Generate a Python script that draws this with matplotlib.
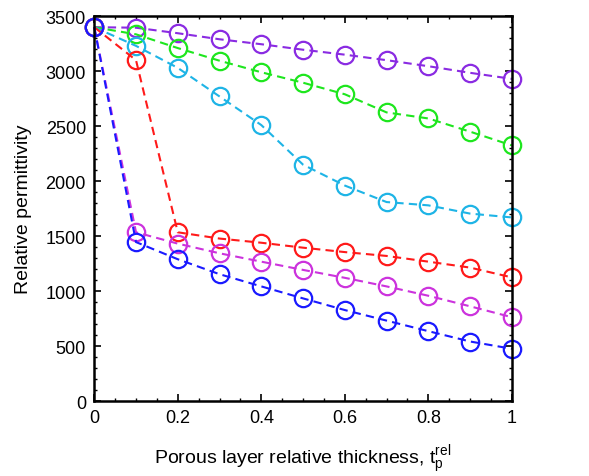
import numpy as np
import matplotlib
matplotlib.use('Agg')
from matplotlib import pyplot as plt
from matplotlib.ticker import MultipleLocator

plt.rcParams['font.family'] = ['Liberation Sans', 'DejaVu Sans']
plt.rcParams['mathtext.fontset'] = 'custom'
plt.rcParams['mathtext.rm'] = 'Liberation Sans'
plt.rcParams['mathtext.it'] = 'Liberation Sans'

# datos
x = [0, 0.1, 0.2, 0.3, 0.4, 0.5, 0.6, 0.7, 0.8, 0.9, 1.0]
purple = [3400, 3395, 3345, 3290, 3245, 3195, 3150, 3100, 3045, 2985, 2930]
green = [3400, 3335, 3210, 3095, 2990, 2895, 2790, 2625, 2570, 2450, 2325]
cyan = [3400, 3230, 3030, 2770, 2510, 2150, 1960, 1810, 1780, 1705, 1670]
red = [3400, 3100, 1535, 1478, 1440, 1395, 1355, 1320, 1268, 1214, 1125]
magenta = [3400, 1535, 1432, 1344, 1268, 1193, 1121, 1043, 958, 862, 763]
blue = [3400, 1446, 1290, 1154, 1043, 934, 828, 732, 636, 542, 476]

series = [(purple, '#8a2be2'), (green, '#1ee61e'), (cyan, '#1eb4e6'),
          (red, '#ff1a1a'), (magenta, '#cc33dd'), (blue, '#1a1aff')]

fig = plt.figure(figsize=(5.89, 4.77), dpi=100)
ax = fig.add_axes([0.160, 0.157, 0.709, 0.807])

for ys, c in series:
    ax.plot(x, ys, '--o', color=c, mfc='none', ms=12.5, mew=1.6, lw=1.5,
            dashes=(4, 2.5), clip_on=False)

ax.set_xlim(0, 1)
ax.set_ylim(0, 3500)
ax.set_xticks([0, 0.2, 0.4, 0.6, 0.8, 1])
ax.set_xticklabels(['0', '0.2', '0.4', '0.6', '0.8', '1'])
ax.xaxis.set_minor_locator(MultipleLocator(0.05))
ax.yaxis.set_major_locator(MultipleLocator(500))
ax.yaxis.set_minor_locator(MultipleLocator(100))
ax.tick_params(which='both', direction='in', top=True, right=True, labelsize=13, pad=6)
ax.tick_params(which='major', length=5, width=1.2)
ax.tick_params(which='minor', length=2.5, width=1)
for s in ax.spines.values():
    s.set_linewidth(1.8)

ax.set_xlabel(r'Porous layer relative thickness, t$_\mathregular{p}^\mathregular{rel}$', fontsize=14, labelpad=12)
ax.set_ylabel('Relative permittivity', fontsize=14, labelpad=10)

plt.savefig('out.png', dpi=100)
